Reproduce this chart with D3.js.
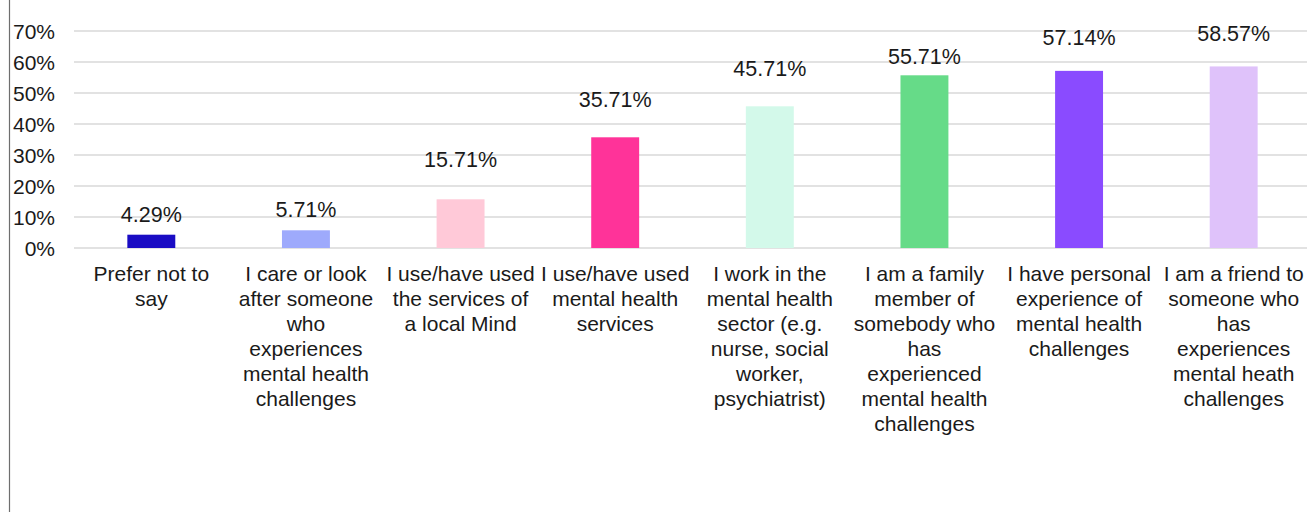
<!DOCTYPE html>
<html>
<head>
<meta charset="utf-8">
<script src="https://cdn.jsdelivr.net/npm/d3@7"></script>
<style>
  html, body { margin: 0; padding: 0; background: #fff; }
  svg { display: block; font-family: "Liberation Sans", Arial, sans-serif; }
</style>
</head>
<body>
<div id="chart"></div>
<script>
// Data
const categories = [
  'Prefer not to|say',
  'I care or look|after someone|who|experiences|mental health|challenges',
  'I use/have used|the services of|a local Mind',
  'I use/have used|mental health|services',
  'I work in the|mental health|sector (e.g.|nurse, social|worker,|psychiatrist)',
  'I am a family|member of|somebody who|has|experienced|mental health|challenges',
  'I have personal|experience of|mental health|challenges',
  'I am a friend to|someone who|has|experiences|mental heath|challenges'
];
const values = [4.29, 5.71, 15.71, 35.71, 45.71, 55.71, 57.14, 58.57];
const yTicks = [0, 10, 20, 30, 40, 50, 60, 70];
const colors = ['#1a0cc4', '#9eaafc', '#ffc9d8', '#ff3399', '#d3f9ea', '#66db88', '#8a4bff', '#dfc2fa'];
// gap between bar top and label baseline (as in the original)
const labelGap = [13, 13, 32, 30, 30, 11, 26, 25];

// Dimensions
const dimensions = { width: 1307, height: 512 };

const svg = d3.select('#chart')
  .append('svg')
  .attr('width', dimensions.width)
  .attr('height', dimensions.height);

// Scales
const xScale = d3.scaleBand()
  .domain(d3.range(categories.length))
  .range([74, 1311])
  .paddingInner(0.69)
  .paddingOuter(0.345);

const yScale = d3.scaleLinear()
  .domain([0, 70])
  .range([248, 31]);

// left border line
svg.append('line')
  .attr('x1', 9.5).attr('x2', 9.5)
  .attr('y1', 0).attr('y2', dimensions.height)
  .attr('stroke', '#6e6e6e')
  .attr('stroke-width', 1.2);

// Gridlines
svg.append('g')
  .selectAll('line')
  .data(yTicks)
  .join('line')
  .attr('x1', 74)
  .attr('x2', 1311)
  .attr('y1', d => yScale(d))
  .attr('y2', d => yScale(d))
  .attr('stroke', '#d9d9d9')
  .attr('stroke-width', 1.3);

// Y axis labels
svg.append('g')
  .selectAll('text')
  .data(yTicks)
  .join('text')
  .attr('x', 55)
  .attr('y', d => yScale(d) + 7.5)
  .attr('text-anchor', 'end')
  .attr('font-size', 21)
  .attr('fill', '#1a1a1a')
  .text(d => d + '%');

// Bars
svg.append('g')
  .selectAll('rect')
  .data(values)
  .join('rect')
  .attr('x', (d, i) => xScale(i))
  .attr('y', d => yScale(d))
  .attr('width', xScale.bandwidth())
  .attr('height', d => yScale(0) - yScale(d))
  .attr('fill', (d, i) => colors[i]);

// Data labels
svg.append('g')
  .selectAll('text')
  .data(values)
  .join('text')
  .attr('x', (d, i) => xScale(i) + xScale.bandwidth() / 2)
  .attr('y', (d, i) => yScale(d) - labelGap[i])
  .attr('text-anchor', 'middle')
  .attr('font-size', 21.5)
  .attr('fill', '#1a1a1a')
  .text(d => d.toFixed(2) + '%');

// Category labels
const catG = svg.append('g')
  .selectAll('text')
  .data(categories)
  .join('text')
  .attr('text-anchor', 'middle')
  .attr('font-size', 21)
  .attr('fill', '#1a1a1a');

catG.selectAll('tspan')
  .data((d, i) => d.split('|').map(line => ({ line, i })))
  .join('tspan')
  .attr('x', d => xScale(d.i) + xScale.bandwidth() / 2)
  .attr('y', (d, j) => 281 + j * 25)
  .text(d => d.line);
</script>
</body>
</html>
